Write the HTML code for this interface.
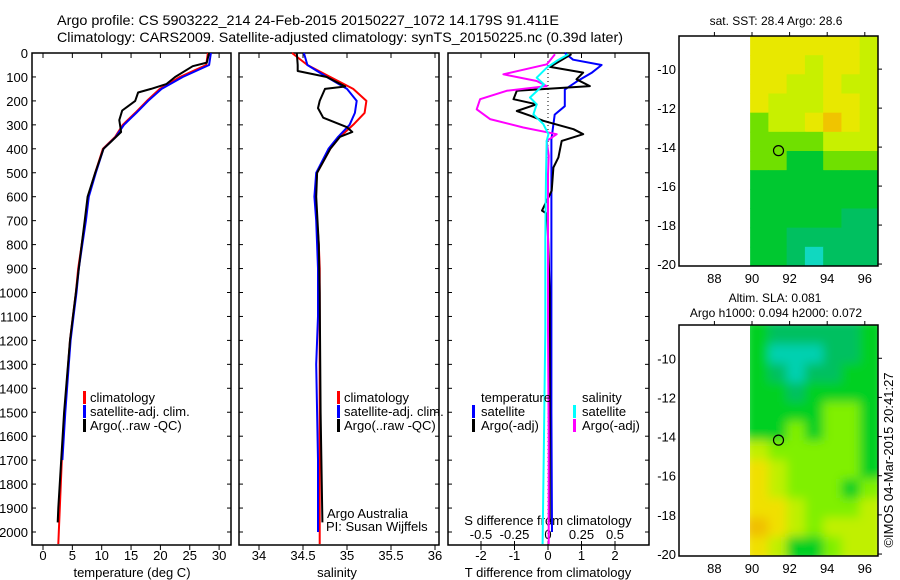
<!DOCTYPE html>
<html><head><meta charset="utf-8">
<style>
html,body{margin:0;padding:0;background:#fff;}
svg{display:block;font-family:"Liberation Sans",sans-serif;}
text{fill:#000;}
</style></head>
<body>
<svg id="chart" width="900" height="580" viewBox="0 0 900 580" xmlns="http://www.w3.org/2000/svg">
<g id="titles">
<text x="57" y="25" font-size="14" textLength="502" lengthAdjust="spacingAndGlyphs">Argo profile: CS 5903222_214 24-Feb-2015 20150227_1072 14.179S 91.411E</text>
<text x="57" y="42" font-size="14" textLength="566" lengthAdjust="spacingAndGlyphs">Climatology: CARS2009. Satellite-adjusted climatology: synTS_20150225.nc (0.39d later)</text>
</g>
<g id="layer"></g>
</svg>
<script>
// ---------- data ----------
const depthTicks = [0,100,200,300,400,500,600,700,800,900,1000,1100,1200,1300,1400,1500,1600,1700,1800,1900,2000];
const tempTicks = [0,5,10,15,20,25,30];
const salTicks = [34,34.5,35,35.5,36];
const salTickLabels = ["34","34.5","35","35.5","36"];
const tdiffTicks = [-2,-1,0,1,2];
const sdiffTicks = [-0.5,-0.25,0,0.25,0.5];
const sdiffTickLabels = ["-0.5","-0.25","0","0.25","0.5"];

const climDepth = [0,50,100,150,200,250,300,350,400,500,600,700,800,900,1000,1100,1200,1300,1500,1700,2000,2050];
const climTemp  = [28.1,27.8,23.3,19.9,17.7,15.7,13.6,12.3,10.2,8.9,7.7,7.2,6.6,6.0,5.6,5.1,4.6,4.3,3.7,3.2,2.7,2.6];
const satTemp   = [28.6,28.3,23.8,20.2,17.9,15.9,13.8,12.4,10.3,9.0,7.8,7.3,6.7,6.1,5.7,5.2,4.7,4.4,3.8,3.3,2.7,2.7];
const argoDepth = [0,40,55,100,130,150,165,200,240,280,330,370,400,500,600,700,800,1000,1200,1500,1700,1900,1960];
const argoTemp  = [28.3,27.9,25.5,22.5,21.0,18.4,16.2,15.7,13.5,13.0,13.3,11.6,10.3,8.9,7.6,7.1,6.6,5.6,4.6,3.6,3.1,2.6,2.5];

const climSal = [34.375,34.55,34.81,35.07,35.22,35.2,35.07,34.92,34.81,34.66,34.64,34.66,34.68,34.69,34.69,34.69,34.69,34.69,34.69,34.69,34.69,34.69];
const satSal  = [34.51,34.55,34.77,35.0,35.11,35.09,35.03,34.9,34.79,34.65,34.63,34.65,34.66,34.67,34.67,34.67,34.66,34.65,34.66,34.67,34.67,34.67];
const argoSalDepth = [0,50,75,100,140,150,200,230,270,310,330,350,400,500,600,800,1000,1500,1960];
const argoSal = [34.43,34.44,34.44,34.77,34.98,34.75,34.69,34.67,34.73,35.0,35.06,34.92,34.81,34.66,34.65,34.68,34.69,34.7,34.72];

const tDiffDepth = [0,28,50,83,118,153,222,257,361,600,1000,1500,2000];
const tDiffSat   = [0.5,0.75,1.6,1.3,0.87,0.5,0.5,0.2,0.1,0.1,0.1,0.1,0.12];
const tArgoDiffDepth = [5,58,82,110,138,158,193,214,242,262,283,318,339,367,436,478,575,658,672,1000,1500,1960];
const tArgoDiff = [0.7,0.06,1.05,0.85,1.25,-0.93,-1.03,-0.34,-0.93,-0.53,-0.14,0.76,1.05,0.41,0.31,0.16,0.11,-0.18,-0.02,0.05,0.05,0.05];
const sArgoDiffDepth = [5,47,89,117,138,158,193,235,276,311,339,367,429,506,783,1158,1600,2050];
const sArgoDiff = [0.052,-0.008,-0.333,-0.084,-0.01,-0.308,-0.507,-0.532,-0.433,-0.184,0.065,-0.01,0.005,0,0,0,0.005,0.005];
const sSatDiffDepth = [5,33,61,103,131,186,214,256,297,339,367,506,783,1158,1600,2050];
const sSatDiff = [0.152,0.065,-0.008,-0.084,-0.03,-0.134,-0.084,-0.109,-0.035,0.003,-0.01,-0.015,-0.02,-0.02,-0.03,-0.04];

// map grids: rows from north (-8.3) to south (-20.1), 7 columns 89.9..96.7E, value = colour class
const sstGrid = [
 [5,5,5,5,5,5,4],[5,5,5,4,5,5,4],[5,5,4,4,5,4,4],[5,4,4,4,5,5,4],
 [3,4,4,5,6,5,4],[3,3,3,3,4,4,4],[3,3,2,2,3,3,3],[2,2,2,2,2,2,2],
 [2,2,2,2,2,2,2],[2,2,2,2,2,1,1],[2,2,1,1,1,1,1],[2,2,1,0,1,1,1]];
const slaGrid = [
 [2,1,1,1,1,1,2],[2,0,0,0,1,1,2],[2,1,0,1,1,2,2],[2,2,1,2,2,2,2],
 [2,2,2,2,3,3,2],[2,2,3,2,3,3,2],[4,3,3,3,3,3,2],[5,4,3,3,3,3,2],
 [5,4,3,3,3,2,3],[5,5,4,3,3,3,4],[6,5,4,3,4,4,4],[5,4,2,2,3,4,4]];
const latTicks = [-10,-12,-14,-16,-18,-20];
const lonTicks = [88,90,92,94,96];
const argoLon = 91.41, argoLat = -14.18;

// ---------- scales ----------
const NS = "http://www.w3.org/2000/svg";
const layer = document.getElementById('layer');
function mk(tag, attrs, parent){const e=document.createElementNS(NS,tag);for(const k in attrs)e.setAttribute(k,attrs[k]);(parent||layer).appendChild(e);return e;}
const yD = d => 53 + d*0.2395;
const xT = t => 43 + t*5.87;
const xS = s => 259 + (s-34)*88;
const xTd = t => 548 + t*33.5;
const xSd = s => 548 + s*134;
const panels = [[32,231],[239,439],[448,649]];
const TOP=53, BOT=545;

function line(xs, ys, color, name, w){
  const p = xs.map((x,i)=>x.toFixed(1)+','+ys[i].toFixed(1)).join(' ');
  const e = mk('polyline',{points:p,fill:'none',stroke:color,'stroke-width':w||2,'stroke-linejoin':'round'});
  
  
  return e;
}
function txt(x,y,s,size,anchor,name){
  const e = mk('text',{x:x,y:y,'font-size':size||12,'text-anchor':anchor||'start'});
  e.textContent = s;
  
  
  return e;
}

// frames
panels.forEach((p,i)=>{
  const r = mk('rect',{x:p[0],y:TOP,width:p[1]-p[0],height:BOT-TOP,fill:'none',stroke:'#000','stroke-width':1.5});
  
  
  depthTicks.forEach(d=>{
    mk('line',{x1:p[0],x2:p[0]+4,y1:yD(d),y2:yD(d),stroke:'#000'});
    mk('line',{x1:p[1],x2:p[1]-4,y1:yD(d),y2:yD(d),stroke:'#000'});
  });
});
depthTicks.forEach(d=>{ txt(28,yD(d)+5,String(d),13,'end','depth-tick-label'); });

// temperature axis
tempTicks.forEach(t=>{
  mk('line',{x1:xT(t),x2:xT(t),y1:BOT,y2:BOT+5,stroke:'#000'});
  mk('line',{x1:xT(t),x2:xT(t),y1:TOP,y2:TOP+5,stroke:'#000'});
  txt(xT(t),560,String(t),13,'middle','temperature-tick-label');
});
txt(132,577,'temperature (deg C)',13,'middle','x-axis-title-temperature');
// salinity axis
salTicks.forEach((s,i)=>{
  mk('line',{x1:xS(s),x2:xS(s),y1:BOT,y2:BOT+5,stroke:'#000'});
  mk('line',{x1:xS(s),x2:xS(s),y1:TOP,y2:TOP+5,stroke:'#000'});
  txt(xS(s),560,salTickLabels[i],13,'middle','salinity-tick-label');
});
txt(337,577,'salinity',13,'middle','x-axis-title-salinity');
// difference axes
tdiffTicks.forEach(t=>{
  mk('line',{x1:xTd(t),x2:xTd(t),y1:BOT,y2:BOT+5,stroke:'#000'});
  mk('line',{x1:xTd(t),x2:xTd(t),y1:TOP,y2:TOP+5,stroke:'#000'});
  txt(xTd(t),560,String(t),13,'middle','tdiff-tick-label');
});
sdiffTicks.forEach((s,i)=>{
  mk('line',{x1:xSd(s),x2:xSd(s),y1:BOT,y2:BOT-4,stroke:'#000'});
  txt(xSd(s),539,sdiffTickLabels[i],13,'middle','sdiff-tick-label');
});
txt(548,525,'S difference from climatology',13,'middle','sdiff-axis-title');
txt(548,577,'T difference from climatology',13,'middle','x-axis-title-tdiff');
mk('line',{x1:548,x2:548,y1:TOP,y2:BOT,stroke:'#000','stroke-dasharray':'1,3'});

// temperature lines
line(climTemp.map(xT), climDepth.map(yD), '#f00', 'climatology-temperature-line');
line(satTemp.map(xT).slice(0,20), climDepth.map(yD).slice(0,20), '#00f', 'satellite-temperature-line');
line(argoTemp.map(xT), argoDepth.map(yD), '#000', 'argo-temperature-line');
// salinity lines
line(climSal.map(xS), climDepth.map(yD), '#f00', 'climatology-salinity-line');
line(satSal.map(xS).slice(0,21), climDepth.map(yD).slice(0,21), '#00f', 'satellite-salinity-line');
line(argoSal.map(xS), argoSalDepth.map(yD), '#000', 'argo-salinity-line');
// difference lines
line(tDiffSat.map(xTd), tDiffDepth.map(yD), '#00f', 'satellite-tdiff-line');
line(tArgoDiff.map(xTd), tArgoDiffDepth.map(yD), '#000', 'argo-tdiff-line');
line(sArgoDiff.map(xSd), sArgoDiffDepth.map(yD), '#f0f', 'argo-sdiff-line');
line(sSatDiff.map(xSd), sSatDiffDepth.map(yD), '#0ff', 'satellite-sdiff-line');

// legends
function legItem(bx,tx,y,color,label,name){
  const r = mk('rect',{x:bx,y:y-11,width:3,height:13,fill:color});
  
  
  txt(tx,y,label,13,'start',name);
}
legItem(83,90,402,'#f00','climatology','legend-climatology');
legItem(83,90,416,'#00f','satellite-adj. clim.','legend-satellite-adj');
legItem(83,90,430,'#000','Argo(..raw -QC)','legend-argo');
legItem(337,344,402,'#f00','climatology','legend-climatology-sal');
legItem(337,344,416,'#00f','satellite-adj. clim.','legend-satellite-adj-sal');
legItem(337,344,430,'#000','Argo(..raw -QC)','legend-argo-sal');
txt(481,402,'temperature',13,'start','legend-temperature-heading');
txt(582,402,'salinity',13,'start','legend-salinity-heading');
legItem(472,481,416,'#00f','satellite','legend-t-satellite');
legItem(472,481,430,'#000','Argo(-adj)','legend-t-argo');
legItem(573,582,416,'#0ff','satellite','legend-s-satellite');
legItem(573,582,430,'#f0f','Argo(-adj)','legend-s-argo');
txt(327,518,'Argo Australia',13,'start','credit-argo-australia');
txt(326,531,'PI: Susan Wijffels',13,'start','credit-pi');

// ---------- maps ----------
const sstColors = ['#10d8c0','#00c060','#00c830','#70e000','#c8f000','#e8e800','#f0c400'];
const slaColors = ['#00d0b0','#00c060','#00d020','#80f000','#c0f000','#f0e000','#f0c000'];
function drawMap(top, bot, grid, colors, name, blur){
  const L=679, R=878, lonX = lon => 752 + (lon-90)*18.8;
  const latTop=-8.3, latBot=-20.1;
  const latY = lat => top + (latTop-lat)/(latTop-latBot)*(bot-top);
  const g = mk('g',{});
  
  
  const cid = name+'-clip';
  const cp = mk('clipPath',{id:cid},g);
  mk('rect',{x:750,y:top,width:R-750,height:bot-top},cp);
  const cells = mk('g',{'clip-path':'url(#'+cid+')'},g);
  let inner = cells;
  if(blur){
    const f = mk('filter',{id:name+'-blur',x:'-0.2',y:'-0.2',width:'1.4',height:'1.4'},g);
    mk('feGaussianBlur',{stdDeviation:5},f);
    inner = mk('g',{filter:'url(#'+name+'-blur)'},cells);
  }
  const nr = grid.length, nc = grid[0].length;
  const lon0=89.9, lon1=96.7;
  grid.forEach((row,i)=>row.forEach((v,j)=>{
    const x0 = lonX(lon0 + j*(lon1-lon0)/nc), x1 = lonX(lon0 + (j+1)*(lon1-lon0)/nc);
    const y0 = latY(latTop + i*(latBot-latTop)/nr), y1 = latY(latTop + (i+1)*(latBot-latTop)/nr);
    const pad = blur ? 6 : 0;
    const r = mk('rect',{x:x0-(j==0?pad:0),y:y0-(i==0?pad:0),width:x1-x0+0.5+(j==0||j==nc-1?pad:0),height:y1-y0+0.5+(i==0||i==nr-1?pad:0),fill:colors[v]},inner);
    
    
  }));
  mk('rect',{x:L,y:top,width:R-L,height:bot-top,fill:'none',stroke:'#000','stroke-width':1.5},g);
  latTicks.forEach(l=>{
    mk('line',{x1:R,x2:R+4,y1:latY(l),y2:latY(l),stroke:'#000'},g);
    txt(676,latY(l)+5,String(l),13,'end','map-lat-tick-label');
  });
  lonTicks.forEach(l=>{
    mk('line',{x1:lonX(l),x2:lonX(l),y1:top,y2:top-4,stroke:'#000'},g);
    txt(lonX(l),bot+17,String(l),13,'middle','map-lon-tick-label');
  });
  const c = mk('circle',{cx:lonX(argoLon),cy:latY(argoLat),r:5,fill:'none',stroke:'#000','stroke-width':1.2},g);
  
  
}
drawMap(36,266,sstGrid,sstColors,'sst-map',false);
drawMap(325,556,slaGrid,slaColors,'sla-map',true);
txt(776,25,'sat. SST: 28.4  Argo: 28.6',12,'middle','sst-map-title');
txt(775,302,'Altim. SLA: 0.081',12,'middle','sla-map-title-1');
txt(776,317,'Argo h1000: 0.094 h2000: 0.072',12,'middle','sla-map-title-2');
const stamp = txt(0,0,'©IMOS 04-Mar-2015 20:41:27',13,'middle','timestamp');
stamp.setAttribute('transform','translate(893,460) rotate(-90)');
</script>
</body></html>
